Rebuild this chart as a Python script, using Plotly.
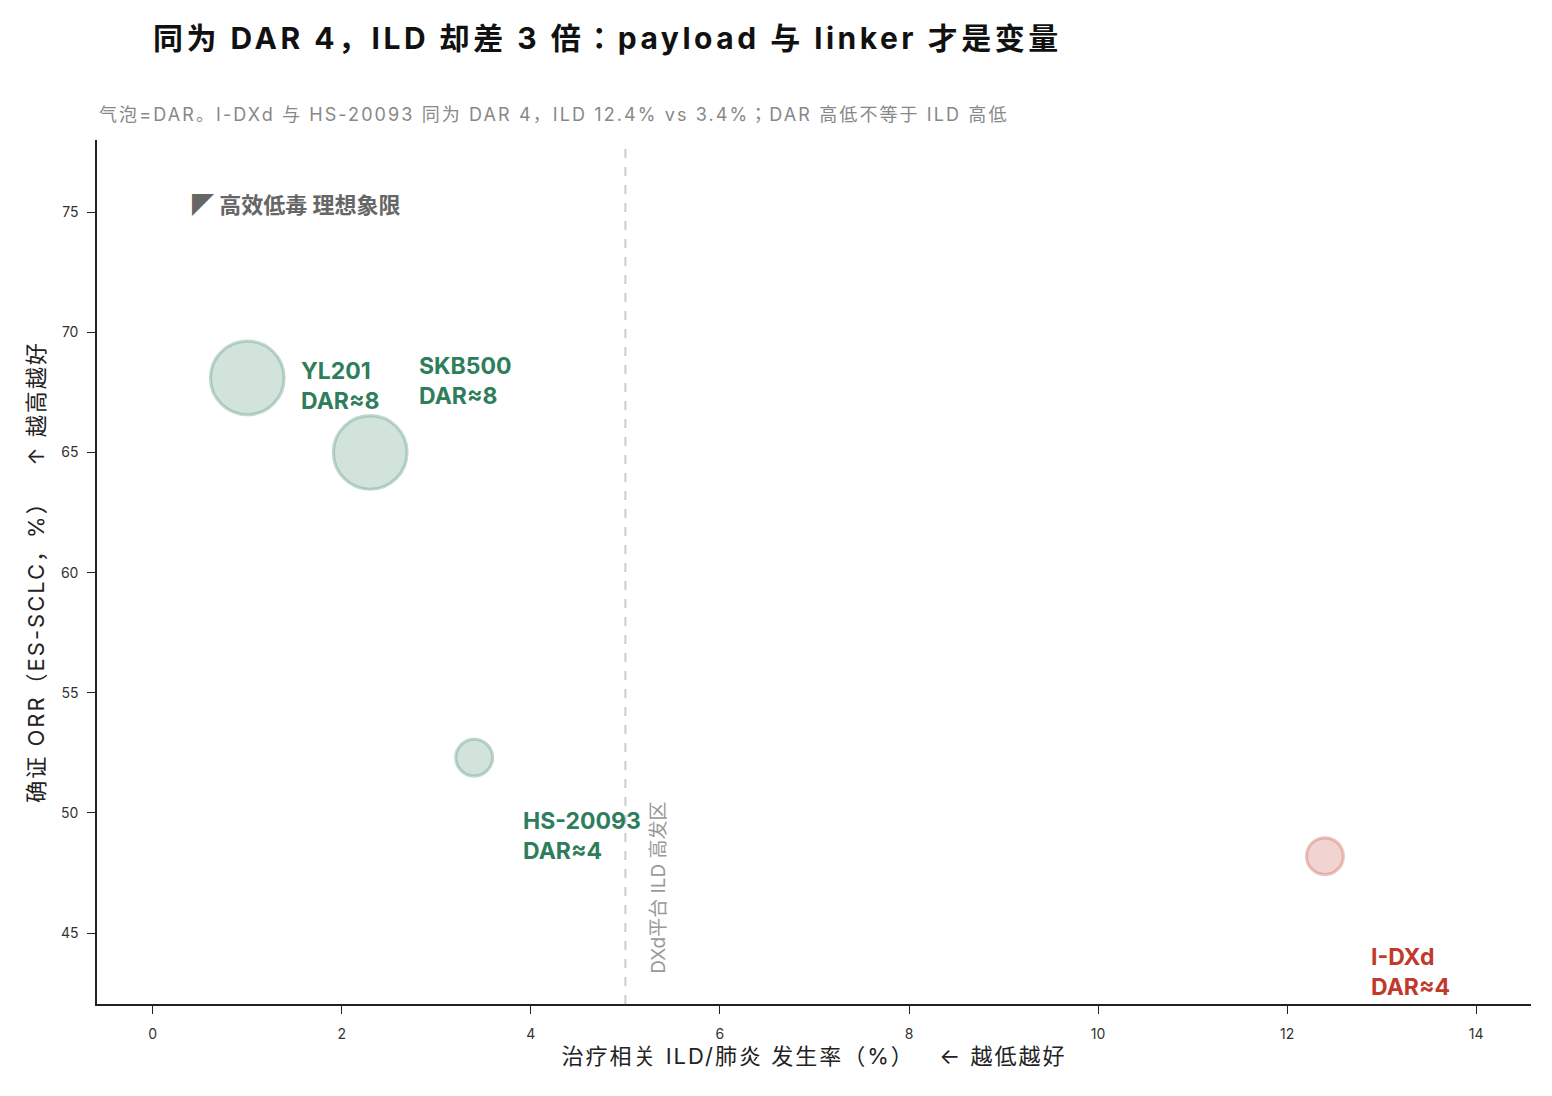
import plotly.graph_objects as go

names = ["YL201", "SKB500", "HS-20093", "I-DXd"]
ild = [1.0, 2.3, 3.4, 12.4]
orr = [68.1, 65.0, 52.3, 48.2]
dar = [8, 8, 4, 4]
groups = ["green", "green", "green", "red"]
label_shift = [(52, -8), (47, 71), (47, -78), (44, -116)]

GREEN = "46,125,91"
RED = "192,57,43"
FONT = "Inter, Noto Sans CJK JP"


def spaced(text, px):
    return f'<span style="letter-spacing:{px}px">{text}</span>'


fig = go.Figure()
for grp, col in [("green", GREEN), ("red", RED)]:
    idx = [i for i, g in enumerate(groups) if g == grp]
    fig.add_trace(go.Scatter(
        x=[ild[i] for i in idx], y=[orr[i] for i in idx], mode="markers",
        marker=dict(size=[dar[i] * 9.2 for i in idx], color=f"rgba({col},0.3)",
                    line=dict(color=f"rgba({col},0.42)", width=3.2)),
        hoverinfo="text", text=[names[i] for i in idx], showlegend=False))

for i, n in enumerate(names):
    col = RED if groups[i] == "red" else GREEN
    fig.add_annotation(x=ild[i], y=orr[i], xref="x", yref="y",
                       text=f"<b>{n}<br>DAR≈{dar[i]}</b>", showarrow=False,
                       xanchor="left", yanchor="middle", align="left",
                       xshift=label_shift[i][0], yshift=label_shift[i][1],
                       font=dict(size=23, color=f"rgb({col})", family=FONT))

fig.add_shape(type="line", x0=5, x1=5, y0=0, y1=1, xref="x", yref="paper",
              line=dict(color="#cccccc", width=2, dash="dash"))
fig.add_annotation(x=5.35, y=43.2, xref="x", yref="y", text="DXd平台 ILD 高发区",
                   textangle=-90, showarrow=False, xanchor="center", yanchor="bottom",
                   font=dict(size=19, color="#999999", family=FONT))
fig.add_annotation(x=0.39, y=75.3, xref="x", yref="y", text="<b>◤ 高效低毒 理想象限</b>",
                   showarrow=False, xanchor="left", yanchor="middle",
                   font=dict(size=22, color="#666666", family=FONT))
fig.add_annotation(x=0, y=1.029, xref="paper", yref="paper",
                   text=spaced("气泡=DAR。I-DXd 与 HS-20093 同为 DAR 4，ILD 12.4% vs 3.4%；DAR 高低不等于 ILD 高低", 2.1),
                   showarrow=False, xanchor="left", yanchor="middle",
                   font=dict(size=18, color="#888888", family=FONT))

fig.update_layout(
    width=1552, height=1096,
    margin=dict(l=97, r=21, t=140, b=92),
    paper_bgcolor="white", plot_bgcolor="white",
    font=dict(family=FONT, color="#222222"),
    title=dict(text=spaced("<b>同为 DAR 4，ILD 却差 3 倍：payload 与 linker 才是变量</b>", 3.5),
               x=153/1552, xref="container", xanchor="left",
               y=1 - 38/1096, yref="container", yanchor="middle",
               font=dict(size=30, color="#111111", family=FONT)),
    xaxis=dict(range=[-0.59, 14.58], tickvals=[0, 2, 4, 6, 8, 10, 12, 14],
               showgrid=False, zeroline=False, showline=True, linecolor="#222222",
               linewidth=1.5, ticks="outside", ticklen=8, tickcolor="#222222",
               ticklabelstandoff=8,
               tickfont=dict(size=14, color="#333333"),
               title=dict(text=spaced("治疗相关 ILD/肺炎 发生率（%）   ← 越低越好", 2),
                          font=dict(size=22, color="#222222"), standoff=8)),
    yaxis=dict(range=[42.05, 78.0], tickvals=[45, 50, 55, 60, 65, 70, 75],
               showgrid=False, zeroline=False, showline=True, linecolor="#222222",
               linewidth=1.5, ticks="outside", ticklen=8, tickcolor="#222222",
               ticklabelstandoff=6,
               tickfont=dict(size=14, color="#333333"),
               title=dict(text=spaced("确证 ORR（ES-SCLC，%）   ↑ 越高越好", 2),
                          font=dict(size=22, color="#222222"), standoff=10)),
)

fig.write_html("out.html")
